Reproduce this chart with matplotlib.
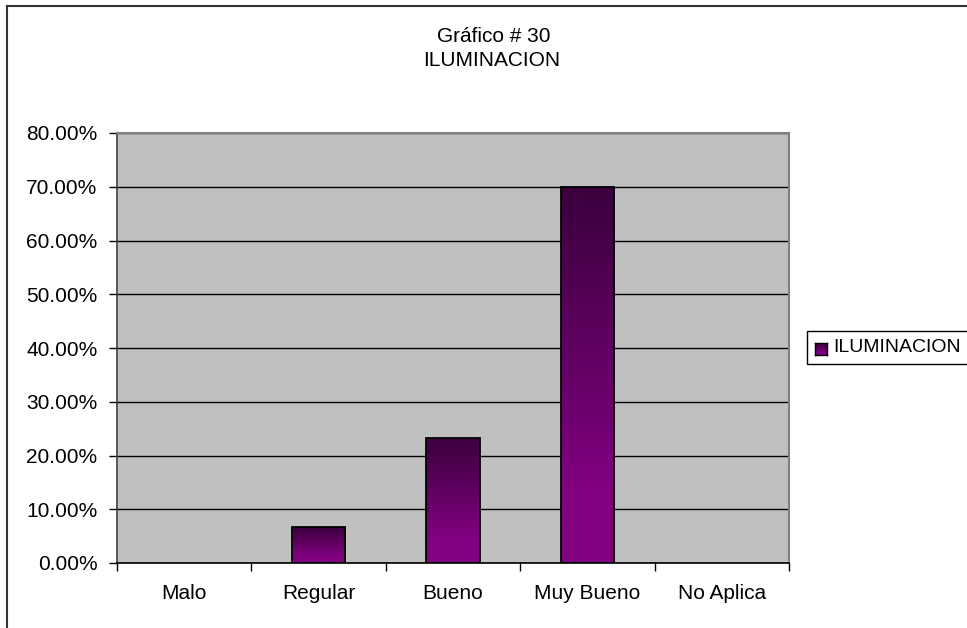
import numpy as np
import matplotlib
matplotlib.use("Agg")
import matplotlib.pyplot as plt
from matplotlib.patches import Rectangle
from matplotlib.lines import Line2D
from matplotlib.ticker import FuncFormatter, MultipleLocator

categories = ["Malo", "Regular", "Bueno", "Muy Bueno", "No Aplica"]
values = [0.0, 6.67, 23.33, 70.0, 0.0]
series_name = "ILUMINACION"
title_lines = ["Gráfico # 30", "ILUMINACION"]

W, H = 967, 628
FS = 15
plt.rcParams['font.family'] = ['Liberation Sans', 'DejaVu Sans']
fig = plt.figure(figsize=(W / 100, H / 100), dpi=100)

def fx(px):
    return px / W

def fy(py):
    return 1 - py / H

# plot area in pixels
L, R, T, B = 117, 789, 133, 563
ax = fig.add_axes([fx(L), fy(B), fx(R) - fx(L), fy(T) - fy(B)])
ax.set_facecolor("#C0C0C0")

x = np.arange(len(categories))

ax.yaxis.set_major_locator(MultipleLocator(10))
ax.yaxis.set_major_formatter(FuncFormatter(lambda v, p: f"{v:.2f}%"))
ax.yaxis.grid(True, color="black", linewidth=1.0)
ax.set_axisbelow(True)

# x ticks at category boundaries
ax.set_xticks(np.arange(-0.5, len(categories), 1.0))
ax.set_xticklabels([])
ax.set_xticks(x, minor=True)
ax.set_xticklabels(categories, minor=True)
ax.tick_params(axis="x", which="minor", length=0, pad=15, labelsize=FS)
ax.tick_params(axis="x", which="major", length=6, width=1, color="black", direction="out")
ax.tick_params(axis="y", length=6, width=1, color="black", direction="out", pad=8, labelsize=FS)

for s in ["top", "right"]:
    ax.spines[s].set_color("#808080")
    ax.spines[s].set_linewidth(1.5)
ax.spines["left"].set_color("#404040")
ax.spines["bottom"].set_color("black")
ax.spines["left"].set_linewidth(1.2)
ax.spines["bottom"].set_linewidth(1.2)

# gradient bars
top_col = np.array([0x3a, 0x00, 0x3c]) / 255
bot_col = np.array([0x80, 0x00, 0x80]) / 255
n = 256
t = np.linspace(1, 0, n)  # top -> bottom rows
frac = np.clip((t - 0.2) / 0.8, 0, 1)[:, None]
grad = (bot_col[None, :] * (1 - frac) + top_col[None, :] * frac)[:, None, :]

bars = ax.bar(x, values, width=0.4, facecolor="none", edgecolor="black", linewidth=1.3, zorder=3)
for b, v in zip(bars, values):
    if v <= 0:
        b.set_linewidth(0)
        continue
    x0 = b.get_x()
    im = ax.imshow(grad, extent=[x0, x0 + b.get_width(), 0, v], aspect="auto", zorder=2.5,
                   interpolation="bilinear")
    im.set_clip_path(b)
ax.set_xlim(-0.5, len(categories) - 0.5)
ax.set_ylim(0, 80)

# title
fig.text(fx(494), fy(36), title_lines[0], ha="center", va="center", fontsize=FS)
fig.text(fx(492), fy(61), title_lines[1], ha="center", va="center", fontsize=FS)

# legend (manual, extends past right edge)
fig.patches.append(Rectangle((fx(807), fy(364)), fx(200), fy(331) - fy(364),
                             transform=fig.transFigure, facecolor="white",
                             edgecolor="black", linewidth=1.0, zorder=1))
key = fig.add_axes([fx(815), fy(355), fx(12), fy(343) - fy(355)])
key.set_zorder(10)
key.imshow(grad, extent=[0, 1, 0, 1], aspect="auto", interpolation="bilinear")
key.set_xticks([]); key.set_yticks([])
for s in key.spines.values():
    s.set_color("black"); s.set_linewidth(1.0)
fig.text(fx(833), fy(348), series_name, ha="left", va="center", fontsize=14, zorder=11)

# chart-area frame (left and top edges visible)
fig.lines.append(Line2D([fx(7), fx(7)], [fy(6), 0], transform=fig.transFigure,
                        color="#333333", linewidth=1.5))
fig.lines.append(Line2D([fx(7), 1], [fy(6), fy(6)], transform=fig.transFigure,
                        color="#333333", linewidth=1.5))

fig.savefig("out.png", dpi=100, facecolor="white")
